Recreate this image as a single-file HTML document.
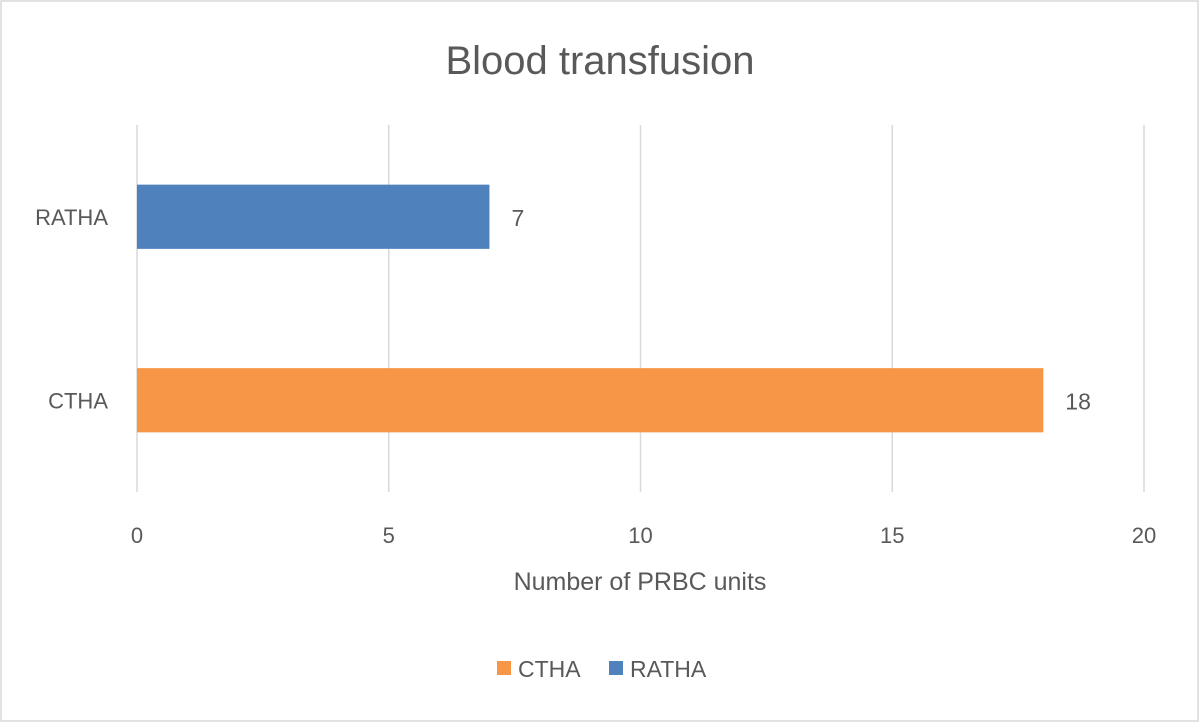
<!DOCTYPE html>
<html><head><meta charset="utf-8"><style>
html,body{margin:0;padding:0;background:#fff;}
svg text{font-family:"Liberation Sans",sans-serif;fill:#595959;}
</style></head><body>
<svg id="chart" width="1200" height="723" xmlns="http://www.w3.org/2000/svg">
<rect x="1" y="1" width="1197" height="720" fill="#fff" stroke="#d9d9d9" stroke-width="1.5"/>
<text x="600" y="74" font-size="40" text-anchor="middle">Blood transfusion</text>
<g id="grid"></g>
<g id="bars"></g>
<g id="ticks"></g>
<text x="640" y="590" font-size="25" text-anchor="middle">Number of PRBC units</text>
<g>
<g><rect x="497" y="661" width="14" height="14" fill="#f79646"/><text x="518" y="677" font-size="23">CTHA</text></g>
<g><rect x="609" y="661" width="14" height="14" fill="#4f81bd"/><text x="630" y="677" font-size="23">RATHA</text></g>
</g>
</svg>
<script>
const categories=["RATHA","CTHA"];
const values=[7,18];
const colors=["#4f81bd","#f79646"];
const ticks=[0,5,10,15,20];
const ns="http://www.w3.org/2000/svg";
const x0=137,x1=1144,yTop=125,yBottom=492,xmax=20;
function xs(v){return x0+(x1-x0)*v/xmax;}
function ys(i){return yTop+(yBottom-yTop)*(i+0.5)/categories.length;}
const bandH=(yBottom-yTop)/categories.length*0.35;
const grid=document.getElementById('grid'),bars=document.getElementById('bars'),tk=document.getElementById('ticks');
ticks.forEach(t=>{
 const l=document.createElementNS(ns,'line');
 
 
 l.setAttribute('x1',xs(t));l.setAttribute('x2',xs(t));l.setAttribute('y1',yTop);l.setAttribute('y2',yBottom);
 l.setAttribute('stroke','#d9d9d9');l.setAttribute('stroke-width','1.5');grid.appendChild(l);
 const tx=document.createElementNS(ns,'text');
 
 
 tx.setAttribute('x',xs(t));tx.setAttribute('y',543);tx.setAttribute('font-size','22');tx.setAttribute('text-anchor','middle');
 tx.textContent=t;tk.appendChild(tx);
});
categories.forEach((c,i)=>{
 const y=ys(i);
 const r=document.createElementNS(ns,'rect');
 
 
 r.setAttribute('x',xs(0));r.setAttribute('y',y-bandH/2);r.setAttribute('width',xs(values[i])-xs(0));r.setAttribute('height',bandH);
 r.setAttribute('fill',colors[i]);bars.appendChild(r);
 const lab=document.createElementNS(ns,'text');
 
 
 lab.setAttribute('x',108);lab.setAttribute('y',y+8);lab.setAttribute('font-size','22');lab.setAttribute('text-anchor','end');
 lab.textContent=c;tk.appendChild(lab);
 const v=document.createElementNS(ns,'text');
 
 
 v.setAttribute('x',xs(values[i])+22);v.setAttribute('y',y+9);v.setAttribute('font-size','23');v.setAttribute('fill','#404040');
 v.textContent=values[i];bars.appendChild(v);
});
</script>
</body></html>
